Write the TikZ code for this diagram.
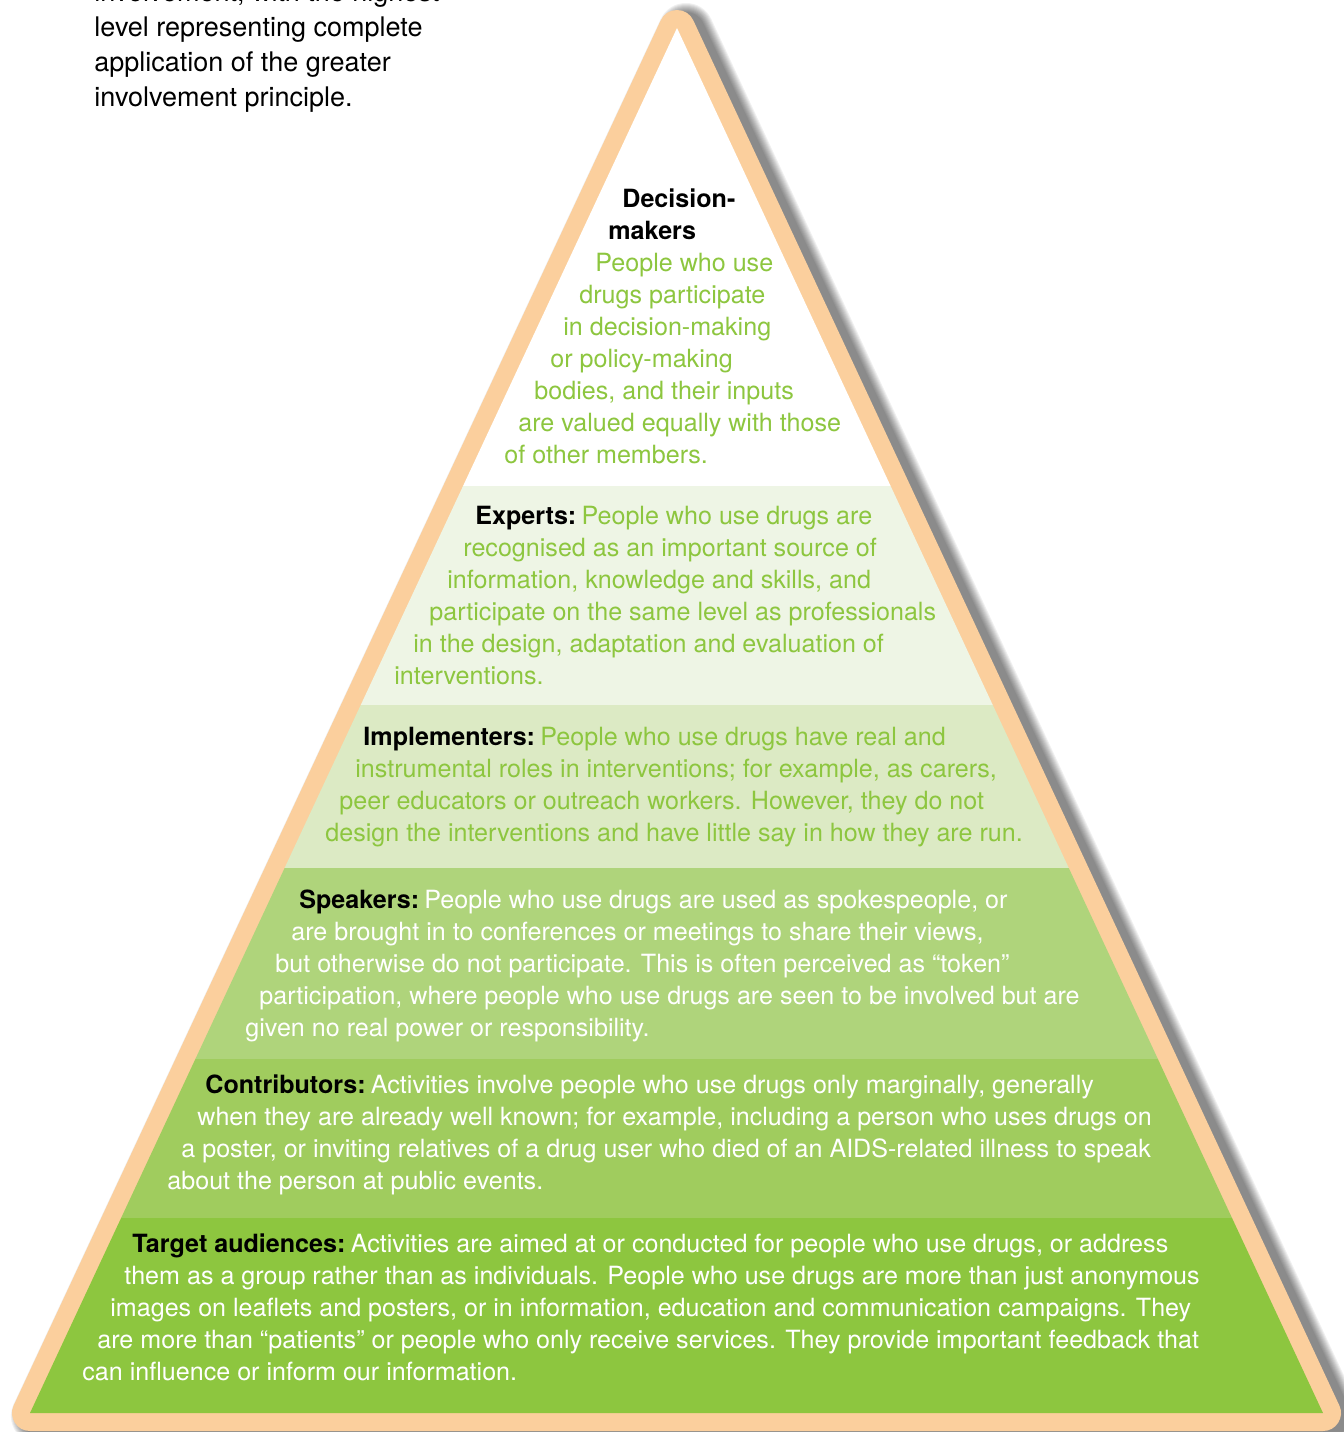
\documentclass[tikz,border=0pt]{standalone}
\usepackage{fontspec}
\setmainfont{TeX Gyre Heros}
\definecolor{tgreen}{HTML}{8DC63F}
\definecolor{orangeb}{HTML}{FBCF9D}
\definecolor{bexp}{HTML}{EEF5E5}
\definecolor{bimp}{HTML}{DCEAC4}
\definecolor{bspk}{HTML}{AFD47B}
\definecolor{bcon}{HTML}{A0CC5E}
\definecolor{btar}{HTML}{8DC63F}
\newcommand{\lbl}[1]{{\color{black}\bfseries #1}\kern-2pt{} }
\begin{document}
\begin{tikzpicture}[x=0.5pt,y=-0.5pt,
  txt/.style={anchor=base west, inner sep=0pt, font=\fontsize{12.55}{14}\selectfont},
  gtxt/.style={txt, text=tgreen},
  wtxt/.style={txt, text=white},
  ktxt/.style={txt, text=black},
  intro/.style={anchor=base west, inner sep=0pt, font=\fontsize{13.5}{15}\selectfont, text=black}]
\useasboundingbox (0,0) rectangle (1344,1432);
% shadow
\foreach \i in {1,...,10}{
  \draw[black, opacity=0.06, line width={18pt+\i*1pt}, line join=round]
    (677+9,28+3) -- (30+9,1413+3) -- (1323+9,1413+3) -- cycle;
}
% orange border
\draw[orangeb, line width=18pt, line join=round] (677,28) -- (30,1413) -- (1323,1413) -- cycle;
% bands
\begin{scope}
  \clip (677,28) -- (30,1413) -- (1323,1413) -- cycle;
  \fill[white] (0,0) rectangle (1344,486);
  \fill[bexp] (0,486) rectangle (1344,705);
  \fill[bimp] (0,705) rectangle (1344,868);
  \fill[bspk] (0,868) rectangle (1344,1059);
  \fill[bcon] (0,1059) rectangle (1344,1218);
  \fill[btar] (0,1218) rectangle (1344,1420);
\end{scope}
% intro text
\node[intro] (i0) at (94,1) {involvement, with the highest};
\node[intro] (i1) at (94,36) {level representing complete};
\node[intro] (i2) at (94,71) {application of the greater};
\node[intro] (i3) at (94,106) {involvement principle.};
% decision-makers
\node[ktxt] (d1) at (622,207) {\bfseries Decision-};
\node[ktxt] (d2) at (608,239) {\bfseries makers};
\node[gtxt] (d3) at (595,271) {People who use};
\node[gtxt] (d4) at (579,303) {drugs participate};
\node[gtxt] (d5) at (563,335) {in decision-making};
\node[gtxt] (d6) at (550,367) {or policy-making};
\node[gtxt] (d7) at (534,399) {bodies, and their inputs};
\node[gtxt] (d8) at (518,431) {are valued equally with those};
\node[gtxt] (d9) at (504,463) {of other members.};
% experts
\node[gtxt] (e1) at (475,524) {\lbl{Experts:}People who use drugs are};
\node[gtxt] (e2) at (463,556) {recognised as an important source of};
\node[gtxt] (e3) at (447,588) {information, knowledge and skills, and};
\node[gtxt] (e4) at (429,620) {participate on the same level as professionals};
\node[gtxt] (e5) at (413,652) {in the design, adaptation and evaluation of};
\node[gtxt] (e6) at (394,684) {interventions.};
% implementers
\node[gtxt] (m1) at (363,745) {\lbl{Implementers:}People who use drugs have real and};
\node[gtxt] (m2) at (355,777) {instrumental roles in interventions; for example, as carers,};
\node[gtxt] (m3) at (339,809) {peer educators or outreach workers. However, they do not};
\node[gtxt] (m4) at (325,841) {design the interventions and have little say in how they are run.};
% speakers
\node[wtxt] (s1) at (299,908) {\lbl{Speakers:}People who use drugs are used as spokespeople, or};
\node[wtxt] (s2) at (291,940) {are brought in to conferences or meetings to share their views,};
\node[wtxt] (s3) at (275,972) {but otherwise do not participate. This is often perceived as “token”};
\node[wtxt] (s4) at (259,1004) {participation, where people who use drugs are seen to be involved but are};
\node[wtxt] (s5) at (245,1036) {given no real power or responsibility.};
% contributors
\node[wtxt] (c1) at (205,1093) {\lbl{Contributors:}Activities involve people who use drugs only marginally, generally};
\node[wtxt] (c2) at (197,1125) {when they are already well known; for example, including a person who uses drugs on};
\node[wtxt] (c3) at (181,1157) {a poster, or inviting relatives of a drug user who died of an AIDS-related illness to speak};
\node[wtxt] (c4) at (167,1189) {about the person at public events.};
% target audiences
\node[wtxt] (t1) at (132,1252) {\lbl{Target audiences:}Activities are aimed at or conducted for people who use drugs, or address};
\node[wtxt] (t2) at (124,1284) {them as a group rather than as individuals. People who use drugs are more than just anonymous};
\node[wtxt] (t3) at (110,1316) {images on leaflets and posters, or in information, education and communication campaigns. They};
\node[wtxt] (t4) at (97,1348) {are more than “patients” or people who only receive services. They provide important feedback that};
\node[wtxt] (t5) at (82,1380) {can influence or inform our information.};
\end{tikzpicture}
\end{document}
